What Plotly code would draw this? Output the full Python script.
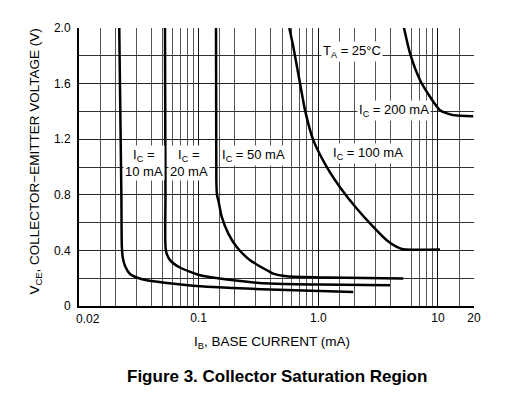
import plotly.graph_objects as go
import math

# ---- data ----
ic10_x = [0.0217, 0.0226, 0.0228, 0.0232, 0.0242, 0.0267, 0.0304, 0.0368, 0.0541, 0.103, 0.194, 0.395, 1.96]
ic10_y = [2.0, 0.80, 0.43, 0.35, 0.29, 0.23, 0.205, 0.185, 0.166, 0.142, 0.130, 0.118, 0.100]

ic20_x = [0.0523, 0.0528, 0.0532, 0.0576, 0.0698, 0.103, 0.195, 0.395, 1.0, 3.97]
ic20_y = [2.0, 0.80, 0.40, 0.33, 0.277, 0.221, 0.185, 0.161, 0.154, 0.149]

ic50_x = [0.1396, 0.1405, 0.1424, 0.146, 0.156, 0.177, 0.208, 0.269, 0.395, 0.42, 0.544, 1.175, 5.13]
ic50_y = [2.0, 0.905, 0.797, 0.761, 0.641, 0.521, 0.425, 0.329, 0.245, 0.233, 0.214, 0.205, 0.197]

ic100_x = [0.572, 0.618, 0.703, 0.774, 0.908, 1.175, 1.517, 2.093, 2.88, 3.73, 4.52, 5.13, 10.4]
ic100_y = [2.0, 1.865, 1.602, 1.409, 1.193, 1.001, 0.855, 0.701, 0.569, 0.473, 0.425, 0.408, 0.406]

ic200_x = [5.2, 5.84, 7.08, 8.58, 10.4, 13.4, 19.7]
ic200_y = [2.0, 1.818, 1.626, 1.505, 1.409, 1.373, 1.366]

x_tick_vals = [0.01, 0.1, 1, 10, 20]
x_tick_text = ["", "0.1", "1.0", "10", "20"]
x_first_label = "0.02"
x_minor_vals = [0.015, 0.02, 0.03, 0.04, 0.05, 0.06, 0.07, 0.08, 0.09,
                0.15, 0.2, 0.3, 0.4, 0.5, 0.6, 0.7, 0.8, 0.9,
                1.5, 2, 3, 4, 6, 7, 8, 9, 15]
y_tick_vals = [0, 0.4, 0.8, 1.2, 1.6, 2.0]
y_tick_text = ["0", "0.4", "0.8", "1.2", "1.6", "2.0"]
y_minor_vals = [0.2, 0.6, 1.0, 1.4, 1.8]

FONT = "Liberation Sans, Arial, sans-serif"

fig = go.Figure()
for xs, ys in [(ic10_x, ic10_y), (ic20_x, ic20_y), (ic50_x, ic50_y),
               (ic100_x, ic100_y), (ic200_x, ic200_y)]:
    fig.add_trace(go.Scatter(x=xs, y=ys, mode="lines",
                             line=dict(color="black", width=2.5, shape="spline", smoothing=0.6),
                             showlegend=False, hoverinfo="skip"))

ann_font = dict(family=FONT, size=13, color="black")
labels = [
    (0.0349, 1.03, "I<sub>C</sub> =<br>10 mA"),
    (0.083, 1.03, "I<sub>C</sub> =<br>20 mA"),
    (0.287, 1.085, "I<sub>C</sub> = 50 mA"),
    (2.62, 1.098, "I<sub>C</sub> = 100 mA"),
    (4.31, 1.41, "I<sub>C</sub> = 200 mA"),
    (1.93, 1.829, "T<sub>A</sub> = 25°C"),
]
for lx, ly, txt in labels:
    fig.add_annotation(x=math.log10(lx), y=ly, xref="x", yref="y", text=txt,
                       showarrow=False, font=ann_font, bgcolor="white", borderpad=1)

# first x tick label (drawn just right of the axis corner, as in the reference)
fig.add_annotation(x=math.log10(x_tick_vals[0]), y=0, xref="x", yref="y",
                   text=x_first_label, showarrow=False, xanchor="left", yanchor="top",
                   xshift=-5, yshift=-4, font=dict(family=FONT, size=12, color="black"))

fig.add_annotation(x=0.488, y=-0.13, xref="paper", yref="paper",
                   text="I<sub>B</sub>, BASE CURRENT (mA)", showarrow=False,
                   font=dict(family=FONT, size=13.5, color="black"),
                   xanchor="center", yanchor="middle")
fig.add_annotation(x=-0.111, y=0.52, xref="paper", yref="paper",
                   text="V<sub>CE</sub>, COLLECTOR\u2212EMITTER VOLTAGE (V)", showarrow=False,
                   textangle=-90, font=dict(family=FONT, size=13.5, color="black"),
                   xanchor="center", yanchor="middle")
fig.add_annotation(x=0.5, y=-0.252, xref="paper", yref="paper",
                   text="<b>Figure 3. Collector Saturation Region</b>", showarrow=False,
                   font=dict(family=FONT, size=17, color="black"),
                   xanchor="center", yanchor="middle")

fig.update_xaxes(type="log", range=[math.log10(0.01), math.log10(20)],
                 tickmode="array", tickvals=x_tick_vals, ticktext=x_tick_text,
                 showgrid=True, gridcolor="#111", gridwidth=1,
                 minor=dict(tickmode="array", tickvals=x_minor_vals, showgrid=True,
                            gridcolor="#555", gridwidth=1, ticks=""),
                 ticks="", showline=True, linecolor="black", linewidth=2,
                 tickfont=dict(family=FONT, size=12, color="black"),
                 zeroline=False)
fig.update_yaxes(range=[0, 2.0], tickmode="array", tickvals=y_tick_vals, ticktext=y_tick_text,
                 showgrid=True, gridcolor="#222", gridwidth=1,
                 minor=dict(tickmode="array", tickvals=y_minor_vals, showgrid=True,
                            gridcolor="#333", gridwidth=1, ticks=""),
                 ticks="", showline=True, linecolor="black", linewidth=2,
                 ticklabelstandoff=4,
                 tickfont=dict(family=FONT, size=12, color="black"),
                 zeroline=False)

# page body has an 8px margin: size the figure so the whole page fits 517x395
fig.update_layout(width=501, height=379, margin=dict(l=71, r=35, t=20, b=81),
                  paper_bgcolor="white", plot_bgcolor="white", showlegend=False,
                  font=dict(family=FONT, size=12, color="black"))

fig.write_html("out.html")
